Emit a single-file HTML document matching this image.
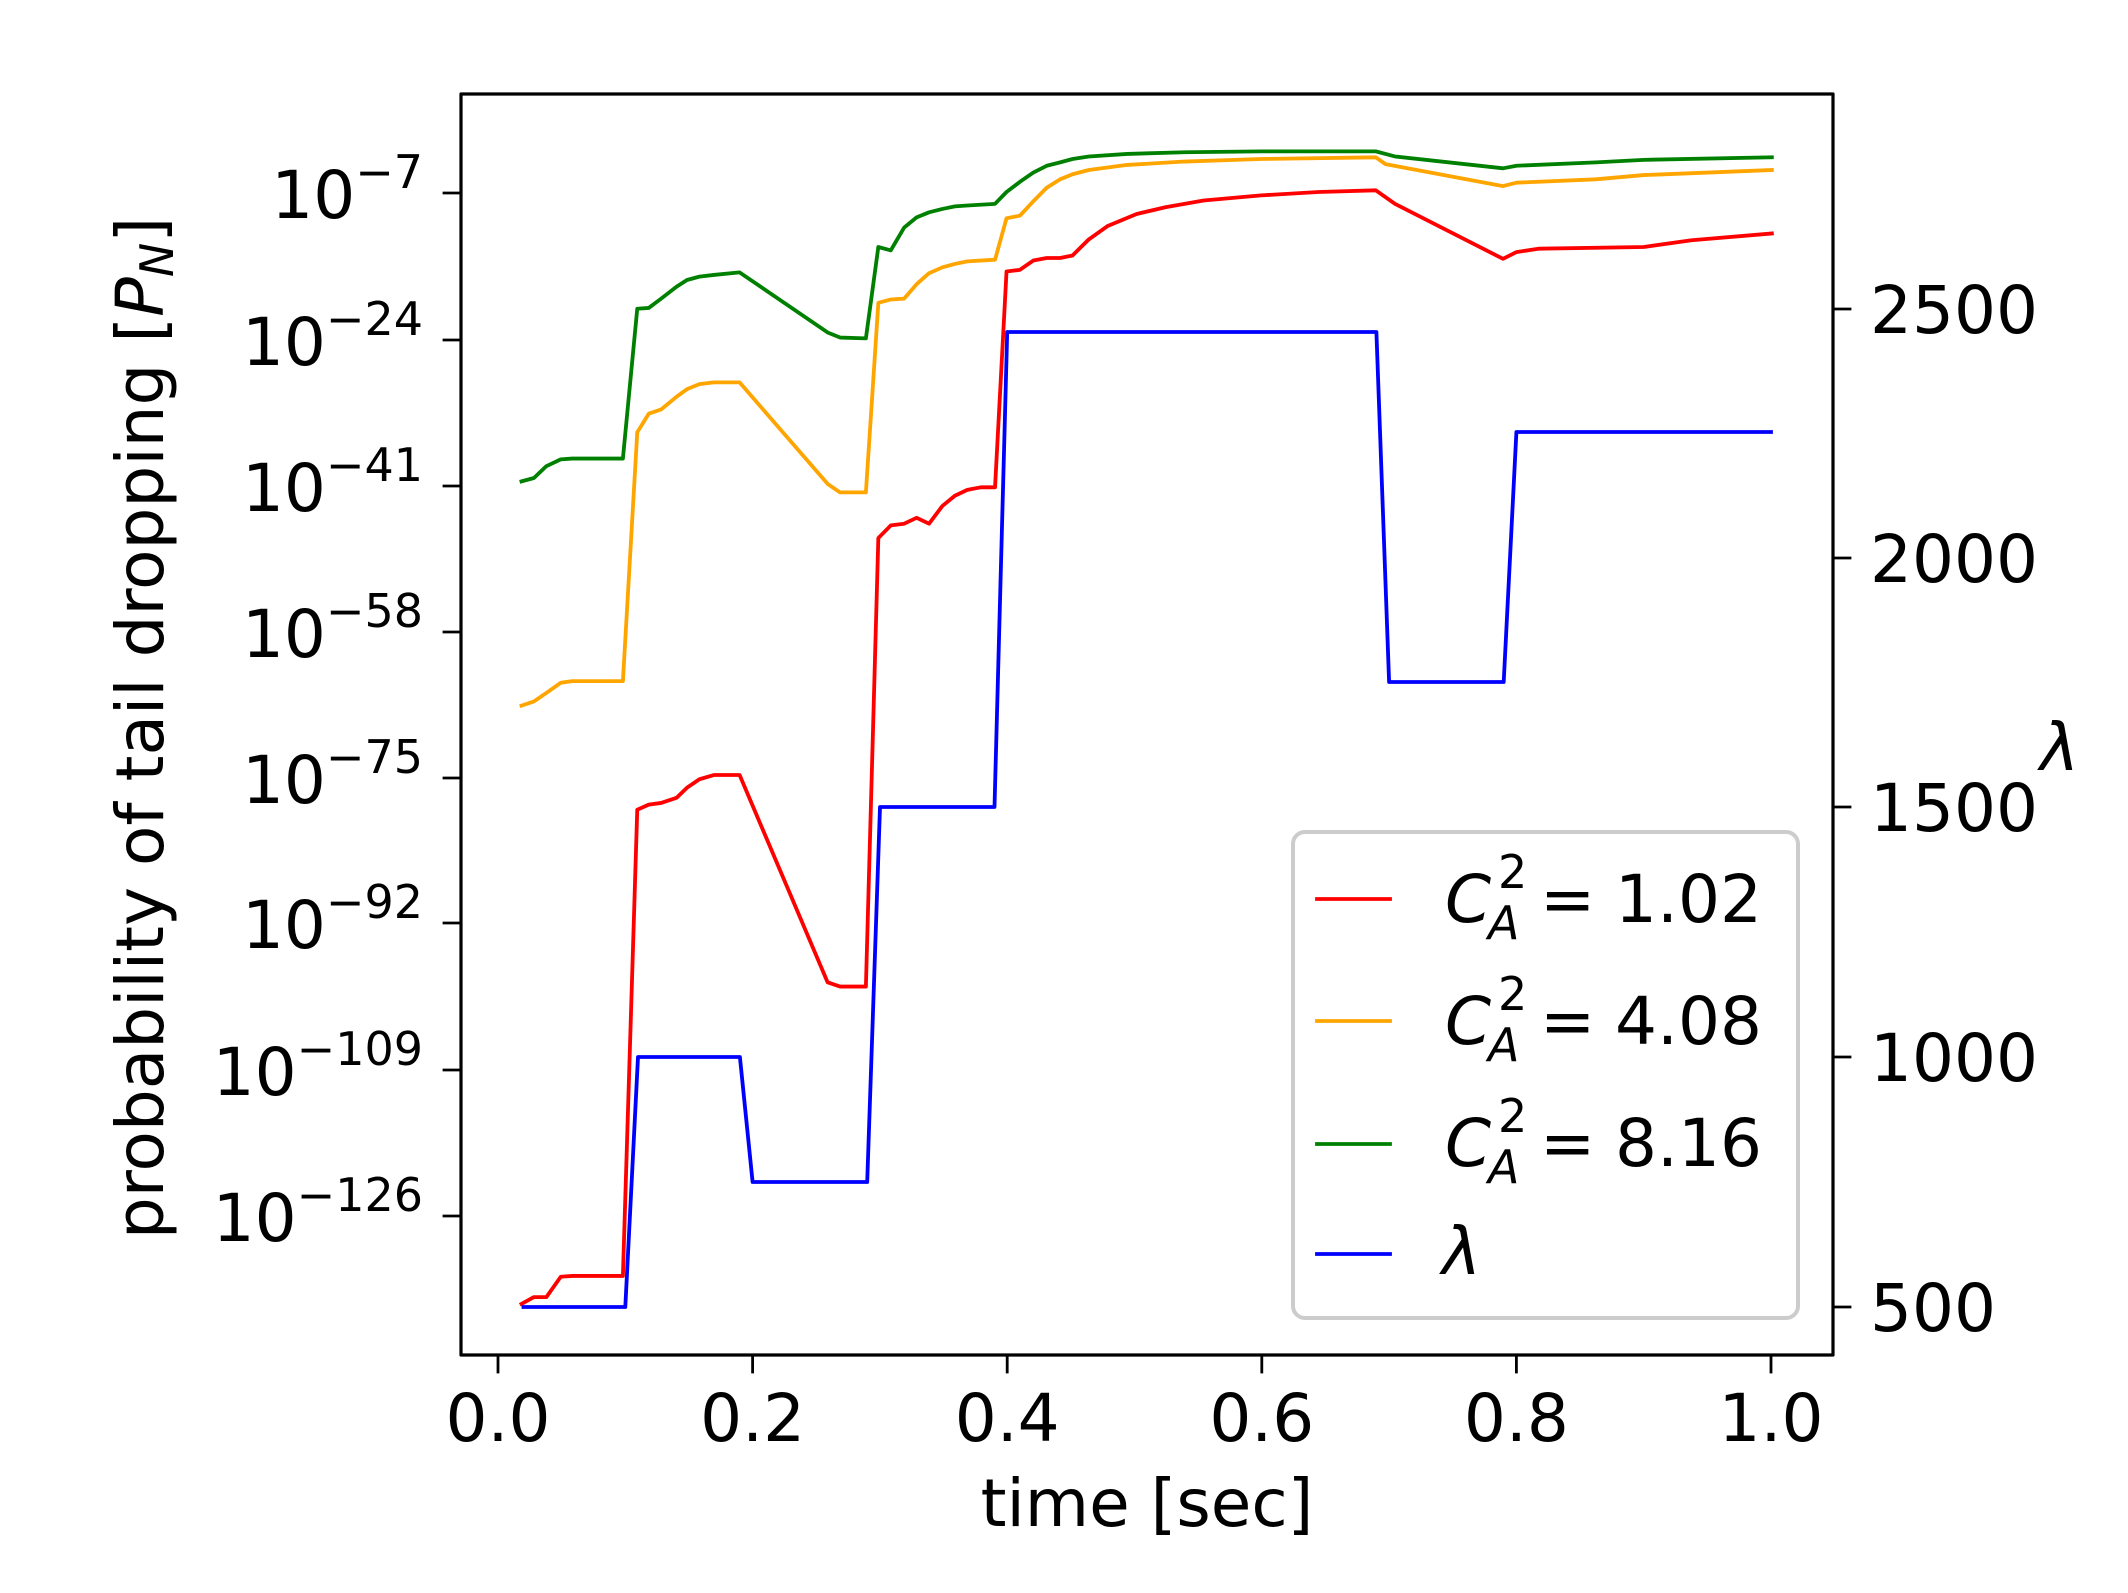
<!DOCTYPE html>
<html><head><meta charset="utf-8"><style>
html,body{margin:0;padding:0;background:#fff;}
svg{display:block;font-family:"DejaVu Sans","Liberation Sans",sans-serif;}
</style></head><body>
<svg width="2128" height="1593" viewBox="0 0 2128 1593" xmlns="http://www.w3.org/2000/svg">
<rect width="2128" height="1593" fill="#fff"/>
<g fill="none" stroke-linejoin="round" stroke-linecap="square">
<g transform="matrix(0.95666,0,0,0.84617,400,60)">
<polyline vector-effect="non-scaling-stroke" stroke="#ff0000" stroke-width="3.8" points="127,1470 140,1462 153,1462 168,1438 180,1437 233,1437 248,886 260,880 273,878 289,872 300,860 313,850 328,845 355,845 447,1090 460,1095 487,1095 500,565 513,550 527,548 540,541 553,548 567,527 580,515 593,508 607,505 622,505 634,250 648,248 662,237 676,234 690,234 703,231 720,212 740,196 770,182 800,174 840,166 900,160 960,156 1020,154 1040,170 1153,235 1167,227 1190,223 1300,221 1350,213 1434,205"/>
<polyline vector-effect="non-scaling-stroke" stroke="#ffa500" stroke-width="3.8" points="127,763 140,758 153,748 168,736 180,734 233,734 248,440 260,418 273,413 289,398 300,389 313,383 328,381 355,381 447,501 460,511 487,511 500,287 513,283 527,282 540,265 553,252 567,245 580,241 593,238 622,236 634,187 648,184 662,167 676,151 690,141 703,135 720,130 760,124 820,120 900,117 1020,115 1030,123 1153,149 1167,145 1250,141 1300,136 1434,130"/>
<polyline vector-effect="non-scaling-stroke" stroke="#008000" stroke-width="3.8" points="127,498 140,494 153,480 168,472 180,471 233,471 248,294 260,293 273,282 289,268 300,260 313,256 328,254 355,251 447,322 460,328 487,329 500,221 513,225 527,198 540,186 553,180 567,176 580,173 593,172 622,170 634,156 648,144 662,133 676,125 690,121 703,117 720,114 760,111 820,109 900,108 1020,108 1040,114 1153,128 1167,125 1250,121 1300,118 1434,115"/>
</g>
<polyline stroke="#0000ff" stroke-width="3.8" points="523.5,1307 625.3,1307 638,1057 739.9,1057 752.6,1182 867.2,1182 880,807 994.5,807 1007.2,332 1376.4,332 1389.1,682 1503.7,682 1516.4,432 1771,432"/>
<rect x="1293" y="832" width="505" height="486" rx="12" ry="12" fill="#fff" fill-opacity="0.8" stroke="#cccccc" stroke-width="4"/>
<line x1="1317" y1="899" x2="1390" y2="899" stroke="#ff0000" stroke-width="3.8"/>
<line x1="1317" y1="1021" x2="1390" y2="1021" stroke="#ffa500" stroke-width="3.8"/>
<line x1="1317" y1="1144" x2="1390" y2="1144" stroke="#008000" stroke-width="3.8"/>
<line x1="1317" y1="1254" x2="1390" y2="1254" stroke="#0000ff" stroke-width="3.8"/>
<rect x="461" y="94" width="1372" height="1261" stroke="#000" stroke-width="3.2"/>
<g stroke="#000" stroke-width="2.8">
<line x1="498" y1="1355" x2="498" y2="1372"/><line x1="752.6" y1="1355" x2="752.6" y2="1372"/><line x1="1007.2" y1="1355" x2="1007.2" y2="1372"/><line x1="1261.8" y1="1355" x2="1261.8" y2="1372"/><line x1="1516.4" y1="1355" x2="1516.4" y2="1372"/><line x1="1771" y1="1355" x2="1771" y2="1372"/>
<line x1="444" y1="193" x2="461" y2="193"/><line x1="444" y1="340" x2="461" y2="340"/><line x1="444" y1="486" x2="461" y2="486"/><line x1="444" y1="632" x2="461" y2="632"/><line x1="444" y1="778" x2="461" y2="778"/><line x1="444" y1="923" x2="461" y2="923"/><line x1="444" y1="1070" x2="461" y2="1070"/><line x1="444" y1="1216" x2="461" y2="1216"/>
<line x1="1833" y1="309" x2="1850" y2="309"/><line x1="1833" y1="558" x2="1850" y2="558"/><line x1="1833" y1="807" x2="1850" y2="807"/><line x1="1833" y1="1057" x2="1850" y2="1057"/><line x1="1833" y1="1307" x2="1850" y2="1307"/>
</g>
</g>
<g fill="#000" font-size="66">
<g text-anchor="middle">
<text x="498" y="1441">0.0</text><text x="752.6" y="1441">0.2</text><text x="1007.2" y="1441">0.4</text><text x="1261.8" y="1441">0.6</text><text x="1516.4" y="1441">0.8</text><text x="1771" y="1441">1.0</text>
<text x="1147" y="1526">time [sec]</text>
</g>
<g>
<text x="1870" y="333">2500</text><text x="1870" y="582">2000</text><text x="1870" y="831">1500</text><text x="1870" y="1081">1000</text><text x="1870" y="1331">500</text>
<text x="2040" y="770" font-style="italic">λ</text>
</g>
<g text-anchor="end">
<text x="423" y="218">10<tspan dy="-30" font-size="46">−7</tspan></text>
<text x="423" y="365">10<tspan dy="-30" font-size="46">−24</tspan></text>
<text x="423" y="511">10<tspan dy="-30" font-size="46">−41</tspan></text>
<text x="423" y="657">10<tspan dy="-30" font-size="46">−58</tspan></text>
<text x="423" y="803">10<tspan dy="-30" font-size="46">−75</tspan></text>
<text x="423" y="948">10<tspan dy="-30" font-size="46">−92</tspan></text>
<text x="423" y="1095">10<tspan dy="-30" font-size="46">−109</tspan></text>
<text x="423" y="1241">10<tspan dy="-30" font-size="46">−126</tspan></text>
</g>
<text transform="translate(163,728) rotate(-90)" text-anchor="middle">probability of tail dropping [<tspan font-style="italic">P</tspan><tspan font-style="italic" font-size="46" dy="10">N</tspan><tspan dy="-10">]</tspan></text>
<g>
<text x="1445" y="922" font-style="italic">C</text><text x="1498" y="888" font-size="46">2</text><text x="1488" y="939" font-size="46" font-style="italic">A</text><text x="1540" y="922">=</text><text x="1615" y="922">1.02</text>
<text x="1445" y="1044" font-style="italic">C</text><text x="1498" y="1010" font-size="46">2</text><text x="1488" y="1061" font-size="46" font-style="italic">A</text><text x="1540" y="1044">=</text><text x="1615" y="1044">4.08</text>
<text x="1445" y="1166" font-style="italic">C</text><text x="1498" y="1132" font-size="46">2</text><text x="1488" y="1183" font-size="46" font-style="italic">A</text><text x="1540" y="1166">=</text><text x="1615" y="1166">8.16</text>
<text x="1442" y="1274" font-style="italic">λ</text>
</g>
</g>
</svg>
</body></html>
